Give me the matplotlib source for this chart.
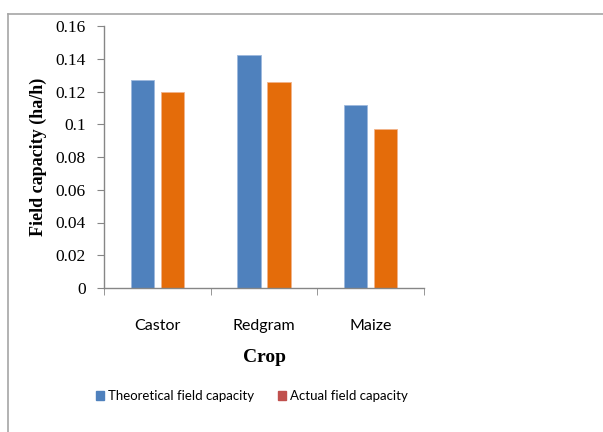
import matplotlib
matplotlib.use("Agg")
import matplotlib.pyplot as plt
import numpy as np
from matplotlib.patches import Patch
from matplotlib.lines import Line2D

categories = ["Castor", "Redgram", "Maize"]
theoretical = [0.127, 0.142, 0.112]
actual = [0.120, 0.1255, 0.097]
yticks = [0, 0.02, 0.04, 0.06, 0.08, 0.1, 0.12, 0.14, 0.16]
ytick_labels = ["0", "0.02", "0.04", "0.06", "0.08", "0.1", "0.12", "0.14", "0.16"]

blue = "#4F81BD"
orange = "#E46C0A"
legend_red = "#C0504D"
axis_gray = "#868686"

W, H = 603, 432
fig = plt.figure(figsize=(W / 100, H / 100), dpi=100)
ax = fig.add_axes([104 / W, 1 - 288 / H, (424 - 104) / W, (288 - 26) / H])

x = np.arange(len(categories))
bw = 0.22
gap = 0.063
ax.bar(x - (bw + gap) / 2, theoretical, width=bw, color=blue,
       edgecolor="#9DB9DD", linewidth=0.6)
ax.bar(x + (bw + gap) / 2, actual, width=bw, color=orange,
       edgecolor="#F2B38A", linewidth=0.6)

ax.set_xlim(-0.5, len(categories) - 0.5)
ax.set_ylim(0, 0.16)
ax.set_yticks(yticks)
ax.set_yticklabels(ytick_labels, fontfamily="Liberation Serif", fontsize=12.5)
ax.set_xticks(x)
ax.set_xticklabels(categories, fontfamily="Lato", fontsize=11.5)
ax.set_xticks(np.arange(-0.5, len(categories), 1.0), minor=True)
ax.tick_params(axis="x", which="major", length=0, pad=22)
ax.tick_params(axis="x", which="minor", length=5, color=axis_gray, direction="out")
ax.tick_params(axis="y", length=5, color=axis_gray, direction="out", pad=8)

for s in ["top", "right"]:
    ax.spines[s].set_visible(False)
for s in ["left", "bottom"]:
    ax.spines[s].set_color(axis_gray)
    ax.spines[s].set_linewidth(1.0)

ax.set_ylabel("Field capacity (ha/h)", fontfamily="Liberation Serif",
              fontweight="bold", fontsize=13, labelpad=6)
ax.set_xlabel("Crop", fontfamily="Liberation Serif", fontweight="bold",
              fontsize=14, labelpad=12)

handles = [Patch(color=blue, label="Theoretical field capacity"),
           Patch(color=legend_red, label="Actual field capacity")]
fig.legend(handles=handles, loc="center", bbox_to_anchor=(252 / W, 1 - 396 / H),
           ncol=2, frameon=False, prop={"family": "Lato", "size": 9.5},
           handlelength=0.6, handleheight=0.6, handletextpad=0.3,
           columnspacing=1.8)

# figure border (left and top only visible)
fig.add_artist(Line2D([8 / W, 8 / W], [0, 1 - 14 / H], transform=fig.transFigure,
                      color="#A6A6A6", linewidth=1.2))
fig.add_artist(Line2D([8 / W, 1], [1 - 14 / H, 1 - 14 / H], transform=fig.transFigure,
                      color="#A6A6A6", linewidth=1.2))

fig.savefig("out.png", dpi=100)
